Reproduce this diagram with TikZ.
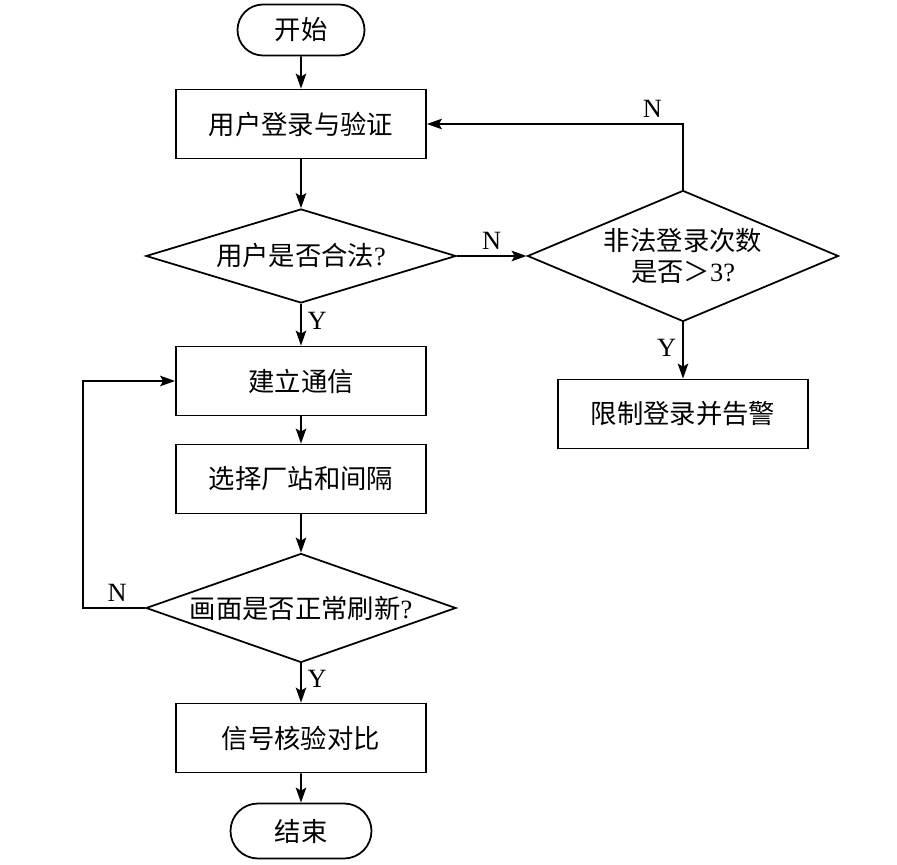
\documentclass[tikz,border=0pt]{standalone}
\usepackage{fontspec}
\setmainfont{Liberation Serif}
\newfontfamily\cjk{Noto Sans CJK SC}
\usetikzlibrary{arrows.meta, shapes.geometric, shapes.misc}

\begin{document}
\begin{tikzpicture}[
    font=\fontsize{15pt}{18pt}\selectfont,
    line width=1pt,
    procbox/.style={draw,minimum height=1.38cm,minimum width=5cm,inner sep=0pt,font=\fontsize{15pt}{18pt}\cjk},
    cond/.style={draw,diamond,inner sep=0pt,font=\fontsize{15pt}{18pt}\cjk},
    term/.style={draw,rounded rectangle,inner sep=0pt,font=\fontsize{15pt}{18pt}\cjk},
    flow/.style={-{Stealth[length=0.3cm,width=0.21cm,inset=0.06cm]}}
]
            \useasboundingbox (0,0) rectangle (17.94,-17.3);
            \node[term,minimum width=2.54cm,minimum height=1.02cm] (A) at (6.02,-0.6){开始};
            \node[procbox] (B) at (6.02,-2.48){用户登录与验证};
            \node[cond,minimum width=6.2cm,minimum height=1.88cm,shape aspect=3.3] (C) at (6.02,-5.12){用户是否合法{\rmfamily ?}};
            \node[cond,minimum width=6.22cm,minimum height=2.62cm,shape aspect=2.37,align=center] (D) at (13.66,-5.12){非法登录次数\\是否＞{\rmfamily 3?}};
            \node[procbox] (E) at (13.66,-8.28){限制登录并告警};
            \node[procbox] (F) at (6.02,-7.62){建立通信};
            \node[procbox] (G) at (6.02,-9.58){选择厂站和间隔};
            \node[cond,minimum width=6.2cm,minimum height=2.18cm,shape aspect=2.84] (H) at (6.02,-12.16){画面是否正常刷新{\rmfamily ?}};
            \node[procbox] (I) at (6.02,-14.76){信号核验对比};
            \node[term,minimum width=2.82cm,minimum height=1.1cm] (J) at (6.02,-16.62){结束};
            \coordinate (K) at (1.66,-12.16);
            % main line
            \draw[flow] (A)--(B);
            \draw[flow] (B)--(C);
            \draw[flow] (C)--node[pos=0.4,right]{Y}(F);
            \draw[flow] (F)--(G);
            \draw[flow] (G)--(H);
            \draw[flow] (H)--node[pos=0.4,right]{Y}(I);
            \draw[flow] (I)--(J);
            % branches
            \draw[flow] (C)--node[above]{N}(D);
            \draw[flow] (D)|-node[pos=0.56,above]{N}(B);
            \draw[flow] (D)--node[pos=0.45,left]{Y}(E);
            \draw[flow] (H.west)--node[pos=0.45,above]{N}(K)|-(F.west);
\end{tikzpicture}
\end{document}
